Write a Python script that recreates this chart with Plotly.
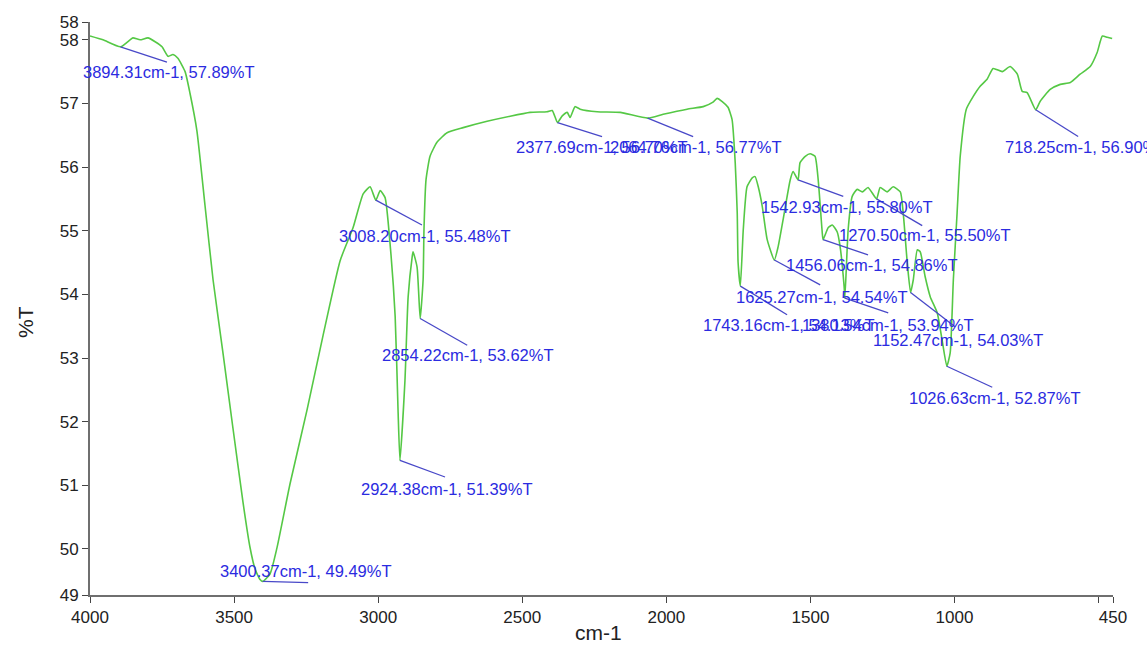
import plotly.graph_objects as go

# FTIR transmittance spectrum: wavenumber (cm-1) and transmittance (%T)
wavenumber = [
    4000, 3955, 3894.31, 3861, 3851, 3826, 3799, 3774, 3750, 3729, 3712, 3695,
    3670, 3653, 3629, 3601, 3573, 3538, 3504, 3469, 3445, 3427, 3410, 3400.37,
    3375, 3351, 3306, 3247, 3191, 3132, 3087, 3052, 3028, 3008.20, 2993, 2976,
    2959, 2941, 2931, 2924.38, 2907, 2896, 2882, 2879, 2865, 2854.22, 2844,
    2841, 2834, 2820, 2796, 2761, 2705, 2622, 2542, 2473, 2414, 2396, 2377.69,
    2362, 2344, 2334, 2317, 2299, 2240, 2160, 2064.76, 2011, 1928, 1872, 1838,
    1824, 1806, 1786, 1772, 1761, 1754, 1751, 1743.16, 1733, 1720, 1702, 1692,
    1681, 1667, 1650, 1625.27, 1612, 1595, 1570, 1560, 1542.93, 1536, 1518,
    1501, 1484, 1473, 1459, 1456.06, 1438, 1424, 1407, 1397, 1383, 1380.54,
    1369, 1355, 1338, 1320, 1300, 1270.50, 1258, 1234, 1213, 1188, 1178, 1164,
    1152.47, 1143, 1129, 1119, 1102, 1084, 1060, 1043, 1026.63, 1015, 1004,
    991, 980, 959, 935, 911, 887, 866, 834, 807, 782, 765, 748, 718.25, 703,
    668, 633, 598, 564, 529, 505, 487, 470, 453,
]
transmittance = [
    58.06, 58.00, 57.89, 58.00, 58.03, 58.00, 58.03, 57.97, 57.89, 57.74, 57.77, 57.71,
    57.50, 57.16, 56.57, 55.40, 54.23, 53.06, 51.90, 50.73, 50.03, 49.68, 49.52, 49.49,
    49.61, 50.02, 51.02, 52.18, 53.36, 54.53, 55.05, 55.58, 55.69, 55.48, 55.63, 55.52,
    54.81, 53.65, 52.18, 51.39, 52.65, 53.96, 54.59, 54.67, 54.43, 53.62, 54.23,
    55.02, 55.80, 56.17, 56.39, 56.54, 56.62, 56.72, 56.80, 56.86, 56.87, 56.89, 56.70,
    56.80, 56.86, 56.78, 56.95, 56.91, 56.87, 56.86, 56.77, 56.83, 56.91, 56.95, 57.02,
    57.08, 57.03, 56.94, 56.75, 56.07, 55.28, 54.50, 54.13, 55.02, 55.69, 55.83, 55.85,
    55.69, 55.38, 54.86, 54.54, 54.75, 55.17, 55.80, 55.93, 55.80, 56.07, 56.17,
    56.21, 56.17, 55.80, 54.97, 54.86, 55.05, 55.09, 54.98, 54.75, 54.12, 53.94,
    55.02, 55.54, 55.65, 55.61, 55.68, 55.50, 55.68, 55.61, 55.69, 55.61, 55.28, 54.50,
    54.03, 54.23, 54.70, 54.67, 54.28, 53.96, 53.71, 53.28, 52.87, 53.08, 54.23,
    55.28, 56.18, 56.91, 57.11, 57.27, 57.38, 57.55, 57.50, 57.58, 57.46, 57.19, 57.17, 56.90, 57.03,
    57.22, 57.30, 57.33, 57.46, 57.58, 57.80, 58.06, 58.04, 58.02,
]

# Picked peaks (wavenumber, %T)
peak_wn = [3894.31, 3400.37, 3008.20, 2924.38, 2854.22, 2377.69, 2064.76, 1743.16,
           1625.27, 1542.93, 1456.06, 1270.50, 1380.54, 1152.47, 1026.63, 718.25]
peak_t = [57.89, 49.49, 55.48, 51.39, 53.62, 56.70, 56.77, 54.13,
          54.54, 55.80, 54.86, 55.50, 53.94, 54.03, 52.87, 56.90]

# Leader-line end and label centre for each peak, in axis units
leader_end = [(3733, 57.65), (3243, 49.47), (2848, 55.09), (2768, 51.13), (2691, 53.20),
              (2223, 56.48), (1907, 56.48), (1581, 53.68), (1466, 54.15), (1386, 55.54),
              (1300, 54.62), (1112, 55.08), (1230, 53.71), (998, 53.49), (869, 52.54),
              (571, 56.48)]
label_pos = [(3726, 57.49), (3250, 49.65), (2837, 54.91), (2761, 50.94), (2688, 53.05),
             (2223, 56.31), (1897, 56.31), (1574, 53.52), (1459, 53.96), (1372, 55.38),
             (1286, 54.46), (1102, 54.94), (1230, 53.52), (987, 53.28), (859, 52.37),
             (543, 56.31)]

# Axis ticks
y_min, y_max = 49.276, 58.28
y_tickvals = [y_min, 50, 51, 52, 53, 54, 55, 56, 57, 58, y_max]
y_ticktext = ["49", "50", "51", "52", "53", "54", "55", "56", "57", "58", "58"]
x_tickvals = [4000, 3500, 3000, 2500, 2000, 1500, 1000, 500, 450]
x_ticktext = ["4000", "3500", "3000", "2500", "2000", "1500", "1000", "", "450"]

FONT = "Liberation Sans, Arial, sans-serif"
LABEL_BLUE = "#2b2be0"
LEADER_BLUE = "#4848c8"
AXIS_GREY = "#6f6f6f"
TEXT_DARK = "#222222"

# Plot-area edges in page pixels, used to place the axis titles
PLOT_L, PLOT_R, PLOT_T, PLOT_B = 90, 1113, 22, 595

fig = go.Figure()

fig.add_trace(go.Scatter(
    x=wavenumber, y=transmittance, mode="lines",
    line=dict(color="#55c845", width=1.6, shape="spline", smoothing=0.5),
    hoverinfo="skip", showlegend=False,
))

# Leader lines from each peak to its label
lx, ly = [], []
for w, t, (ex, ey) in zip(peak_wn, peak_t, leader_end):
    lx += [w, ex, None]
    ly += [t, ey, None]
fig.add_trace(go.Scatter(
    x=lx, y=ly, mode="lines", line=dict(color=LEADER_BLUE, width=1.3),
    hoverinfo="skip", showlegend=False, cliponaxis=False,
))

for w, t, (px, py) in zip(peak_wn, peak_t, label_pos):
    fig.add_annotation(
        x=px, y=py, xref="x", yref="y", showarrow=False,
        text=f"{w:.2f}cm-1, {t:.2f}%T",
        font=dict(family=FONT, size=16.5, color=LABEL_BLUE),
        xanchor="center", yanchor="middle",
    )

# Axis titles
fig.add_annotation(
    xref="paper", yref="paper",
    x=(598 - PLOT_L) / (PLOT_R - PLOT_L), y=-(632 - PLOT_B) / (PLOT_B - PLOT_T),
    text="cm-1", showarrow=False, xanchor="center", yanchor="middle",
    font=dict(family=FONT, size=21, color=TEXT_DARK),
)
fig.add_annotation(
    xref="paper", yref="paper",
    x=-(PLOT_L - 25) / (PLOT_R - PLOT_L), y=(PLOT_B - 322) / (PLOT_B - PLOT_T),
    text="%T", showarrow=False, textangle=-90, xanchor="center", yanchor="middle",
    font=dict(family=FONT, size=21, color=TEXT_DARK),
)

axis_style = dict(
    showgrid=False, zeroline=False, showline=True, linecolor=AXIS_GREY, linewidth=2,
    ticks="outside", ticklen=6, tickcolor="#444444", tickwidth=1,
    tickfont=dict(family=FONT, size=17, color=TEXT_DARK),
)
fig.update_xaxes(range=[4000, 450], tickvals=x_tickvals, ticktext=x_ticktext,
                 ticklabelstandoff=0, **axis_style)
fig.update_yaxes(range=[y_min, y_max], tickvals=y_tickvals, ticktext=y_ticktext, **axis_style)

fig.update_layout(
    width=1147, height=645,
    margin=dict(l=PLOT_L, r=1147 - PLOT_R, t=PLOT_T, b=645 - PLOT_B),
    plot_bgcolor="white", paper_bgcolor="white",
    font=dict(family=FONT),
)

fig.write_html("out.html")
